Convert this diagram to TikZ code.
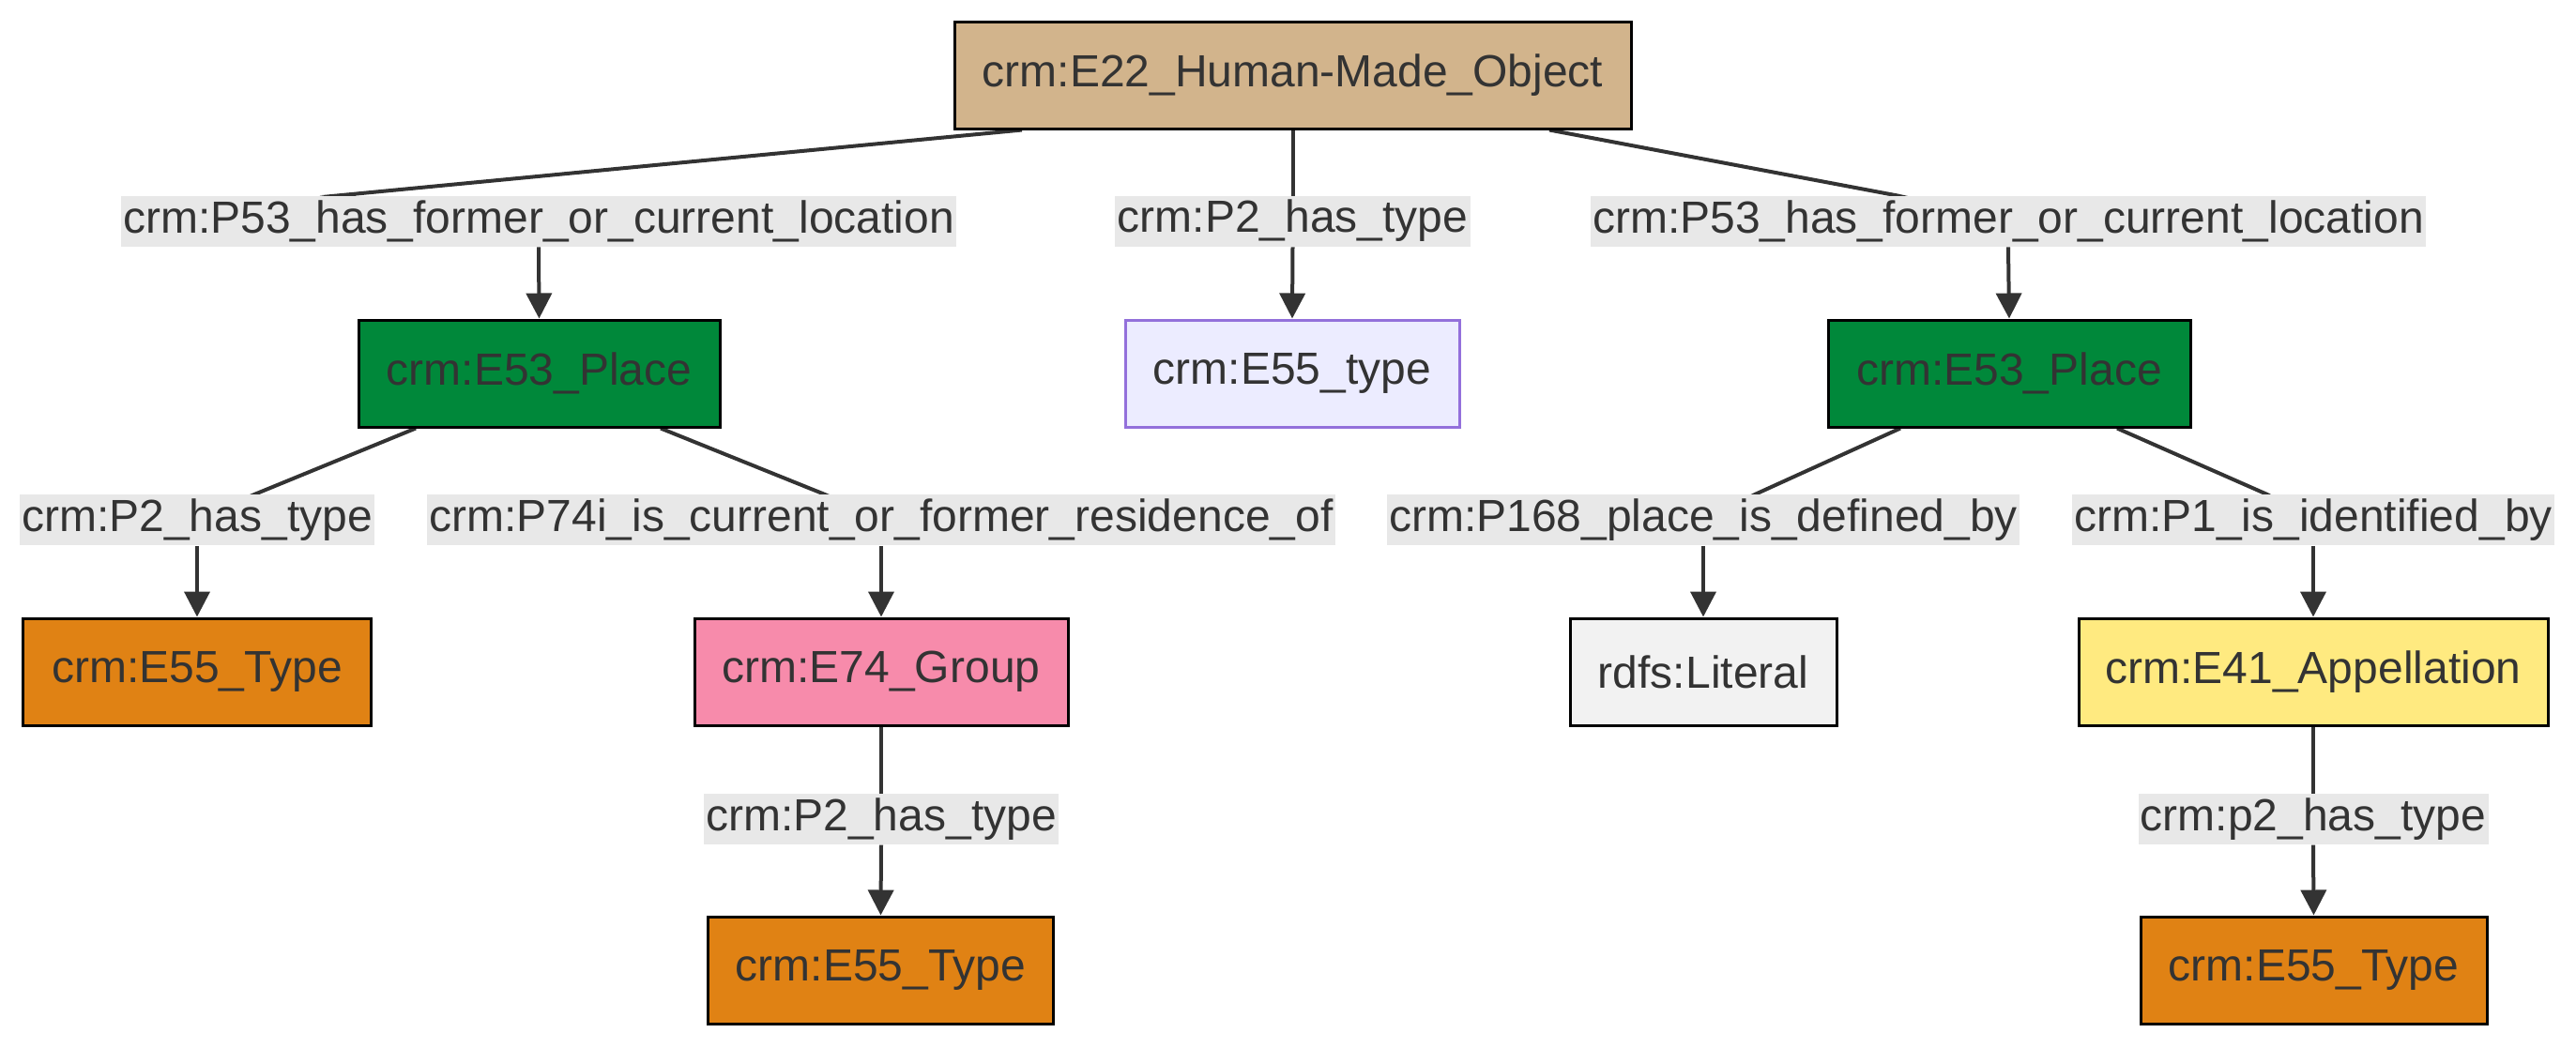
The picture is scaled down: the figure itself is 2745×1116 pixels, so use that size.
\documentclass[tikz,border=0pt]{standalone}
\usepackage{fontspec}
\setmainfont{Liberation Sans}
\usetikzlibrary{arrows.meta,calc}
\pgfdeclarelayer{bg}
\pgfsetlayers{bg,main}
\definecolor{txt}{HTML}{333333}
\definecolor{lblbg}{HTML}{E8E8E8}
\definecolor{tanc}{HTML}{D2B48C}
\definecolor{placec}{HTML}{00883A}
\definecolor{defc}{HTML}{ECECFF}
\definecolor{defb}{HTML}{9370DB}
\definecolor{typec}{HTML}{E08214}
\definecolor{groupc}{HTML}{F78BAB}
\definecolor{litc}{HTML}{F2F2F2}
\definecolor{appc}{HTML}{FFEA80}
\begin{document}
\begin{tikzpicture}[x=0.25pt,y=-0.25pt,
  box/.style={draw=black,line width=0.75pt,minimum height=28.5pt,inner sep=0pt,text=txt,font=\fontsize{12}{14}\selectfont},
  lbl/.style={fill=lblbg,text=txt,inner xsep=0.6pt,inner ysep=0pt,minimum height=13.5pt,font=\fontsize{12}{14}\selectfont},
  edge/.style={draw=txt,line width=1pt},
  arr/.style={edge,-{Triangle[length=6.75pt,width=6.75pt]}}]
\useasboundingbox (0,0) rectangle (2745,1116);

% nodes
\node[box,fill=tanc,minimum width=180.25pt] (n0) at (1377.5,80) {crm:E22\_Human-Made\_Object};
\node[box,fill=placec,minimum width=96.25pt] (pl) at (574.5,398) {crm:E53\_Place};
\node[box,fill=defc,draw=defb,minimum width=89pt] (ty) at (1377,398) {crm:E55\_type};
\node[box,fill=placec,minimum width=96.5pt] (pr) at (2141,398) {crm:E53\_Place};
\node[box,fill=typec,minimum width=92.75pt] (t1) at (210,716) {crm:E55\_Type};
\node[box,fill=groupc,minimum width=99.5pt] (gr) at (939,716) {crm:E74\_Group};
\node[box,fill=litc,minimum width=71pt] (li) at (1815,716) {rdfs:Literal};
\node[box,fill=appc,minimum width=125pt] (ap) at (2465,716) {crm:E41\_Appellation};
\node[box,fill=typec,minimum width=92pt] (t2) at (938.5,1034) {crm:E55\_Type};
\node[box,fill=typec,minimum width=92.25pt] (t3) at (2465.5,1034) {crm:E55\_Type};

% labels
\node[lbl] (l1) at (574,235.5) {crm:P53\_has\_former\_or\_current\_location};
\node[lbl] (l2) at (1377.5,235.5) {crm:P2\_has\_type};
\node[lbl] (l3) at (2140,235.5) {crm:P53\_has\_former\_or\_current\_location};
\node[lbl] (l4) at (210,554) {crm:P2\_has\_type};
\node[lbl] (l5) at (939,554) {crm:P74i\_is\_current\_or\_former\_residence\_of};
\node[lbl] (l6) at (1815,554) {crm:P168\_place\_is\_defined\_by};
\node[lbl] (l7) at (2465,554) {crm:P1\_is\_identified\_by};
\node[lbl] (l8) at (939,872.7) {crm:P2\_has\_type};
\node[lbl] (l9) at (2465,872.7) {crm:p2\_has\_type};

% waypoints where slanted edges meet labels
\coordinate (w1) at (359,208.5);
\coordinate (w3) at (2022,208.5);
\coordinate (w4) at (271,527);
\coordinate (w5) at (879,527);
\coordinate (w6) at (1870,527);
\coordinate (w7) at (2416,527);

\begin{pgfonlayer}{bg}
\draw[edge] ($(n0.south)+(-288.5,0)$) -- (w1) -- (l1.center);
\draw[edge] (n0.south) -- (l2.center);
\draw[edge] ($(n0.south)+(273.5,0)$) -- (w3) -- (l3.center);
\draw[edge] ($(pl.south)+(-131.5,0)$) -- (w4) -- (l4.center);
\draw[edge] ($(pl.south)+(129.5,0)$) -- (w5) -- (l5.center);
\draw[edge] ($(pr.south)+(-116,0)$) -- (w6) -- (l6.center);
\draw[edge] ($(pr.south)+(115,0)$) -- (w7) -- (l7.center);
\draw[edge] (gr.south) -- (l8.center);
\draw[edge] (ap.south) -- (l9.center);
\end{pgfonlayer}

\draw[arr] (l1.south) -- (pl.north);
\draw[arr] (l2.south) -- (ty.north);
\draw[arr] (l3.south) -- (pr.north);
\draw[arr] (l4.south) -- (t1.north);
\draw[arr] (l5.south) -- (gr.north);
\draw[arr] (l6.south) -- (li.north);
\draw[arr] (l7.south) -- (ap.north);
\draw[arr] (l8.south) -- (t2.north);
\draw[arr] (l9.south) -- (t3.north);
\end{tikzpicture}
\end{document}
